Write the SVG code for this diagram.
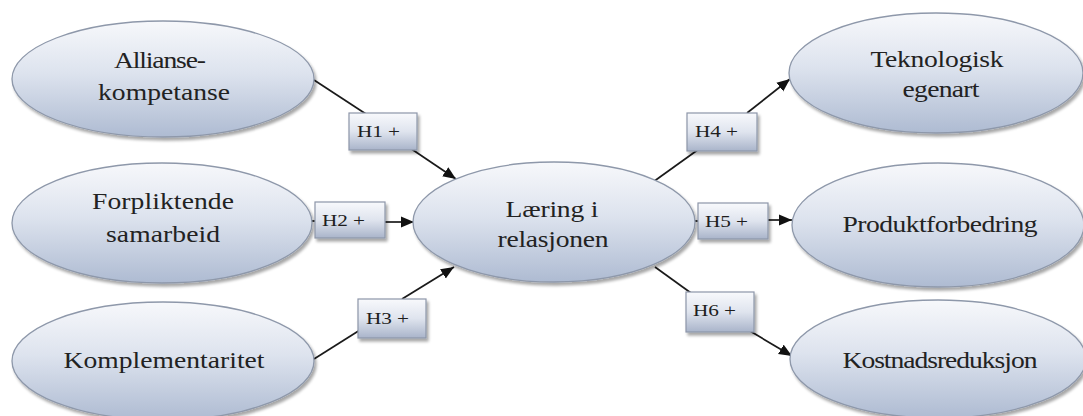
<svg xmlns="http://www.w3.org/2000/svg" width="1083" height="416" viewBox="0 0 1083 416">
  <defs>
    <linearGradient id="ovalFill" x1="0" y1="0" x2="0" y2="1">
      <stop offset="0" stop-color="#f7f8fb"/>
      <stop offset="0.45" stop-color="#dde3ee"/>
      <stop offset="1" stop-color="#aebbd2"/>
    </linearGradient>
    <linearGradient id="tagFill" x1="0" y1="0" x2="0" y2="1">
      <stop offset="0" stop-color="#f8f9fc"/>
      <stop offset="0.5" stop-color="#dfe4ee"/>
      <stop offset="1" stop-color="#a9b4ca"/>
    </linearGradient>
    <filter id="soft" x="-10%" y="-10%" width="125%" height="130%">
      <feGaussianBlur in="SourceAlpha" stdDeviation="1.5"/>
      <feOffset dx="1.5" dy="2.5" result="b"/>
      <feComponentTransfer><feFuncA type="linear" slope="0.35"/></feComponentTransfer>
      <feMerge><feMergeNode/><feMergeNode in="SourceGraphic"/></feMerge>
    </filter>
    <marker id="arrow" markerUnits="userSpaceOnUse" markerWidth="14" markerHeight="12" refX="13" refY="6" orient="auto">
      <path d="M0,0.5 L13,6 L0,11.5 Z" fill="#111"/>
    </marker>
    <style>
      .oval { fill: url(#ovalFill); stroke: #8e98aa; stroke-width: 1.3; filter: url(#soft); }
      .tag { fill: url(#tagFill); stroke: #8d96a8; stroke-width: 1.2; filter: url(#soft); }
      .lbl { font-family: "Liberation Serif", "DejaVu Serif", serif; font-size: 24px; fill: #222; text-anchor: middle; }
      .tagtxt { font-family: "Liberation Serif", "DejaVu Serif", serif; font-size: 17px; fill: #1e1e1e; }
      .wire { stroke: #1a1a1a; stroke-width: 1.7; fill: none; }
      .wire.head { marker-end: url(#arrow); }
    </style>
  </defs>

  <rect width="1083" height="416" fill="#ffffff"/>

  <!-- connectors -->
  <g id="connectors">
    <line class="wire" x1="314" y1="80" x2="366" y2="114"/>
    <line class="wire head" x1="410" y1="148" x2="456" y2="179"/>
    <line class="wire" x1="311" y1="221" x2="316" y2="221"/>
    <line class="wire head" x1="385" y1="222" x2="414" y2="222"/>
    <line class="wire" x1="314" y1="359" x2="360" y2="330"/>
    <line class="wire head" x1="402" y1="299" x2="454" y2="267"/>
    <line class="wire" x1="653" y1="182" x2="699" y2="149"/>
    <line class="wire head" x1="747" y1="113" x2="790" y2="79"/>
    <line class="wire" x1="694" y1="221" x2="699" y2="221"/>
    <line class="wire head" x1="768" y1="220" x2="792" y2="220"/>
    <line class="wire" x1="655" y1="267" x2="691" y2="293"/>
    <line class="wire head" x1="750" y1="331" x2="792" y2="356"/>
  </g>

  <!-- source constructs (labels set in a widened serif face) -->
  <g id="allianse">
    <ellipse class="oval" cx="163" cy="79" rx="151" ry="58"/>
    <text class="lbl" transform="matrix(1.15 0 0 1 160 68)" textLength="80" lengthAdjust="spacing">Allianse-</text>
    <text class="lbl" transform="matrix(1.15 0 0 1 164 100)" textLength="114.8" lengthAdjust="spacing">kompetanse</text>
  </g>
  <g id="forpliktende">
    <ellipse class="oval" cx="162" cy="223" rx="150" ry="60"/>
    <text class="lbl" transform="matrix(1.15 0 0 1 163 209)" textLength="123.5" lengthAdjust="spacing">Forpliktende</text>
    <text class="lbl" transform="matrix(1.15 0 0 1 163 242)" textLength="99.1" lengthAdjust="spacing">samarbeid</text>
  </g>
  <g id="komplementaritet">
    <ellipse class="oval" cx="163" cy="361" rx="151" ry="59"/>
    <text class="lbl" transform="matrix(1.15 0 0 1 164 368)" textLength="174.8" lengthAdjust="spacing">Komplementaritet</text>
  </g>

  <!-- central construct -->
  <g id="laering">
    <ellipse class="oval" cx="554" cy="222" rx="141" ry="60"/>
    <text class="lbl" transform="matrix(1.15 0 0 1 552 217)" textLength="80.9" lengthAdjust="spacing">Læring i</text>
    <text class="lbl" transform="matrix(1.15 0 0 1 553 247)" textLength="96.5" lengthAdjust="spacing">relasjonen</text>
  </g>

  <!-- outcome constructs -->
  <g id="teknologisk">
    <ellipse class="oval" cx="936" cy="73" rx="147" ry="60"/>
    <text class="lbl" transform="matrix(1.15 0 0 1 937 67)" textLength="115.7" lengthAdjust="spacing">Teknologisk</text>
    <text class="lbl" transform="matrix(1.15 0 0 1 941 97)" textLength="67" lengthAdjust="spacing">egenart</text>
  </g>
  <g id="produktforbedring">
    <ellipse class="oval" cx="938" cy="225" rx="146" ry="62"/>
    <text class="lbl" transform="matrix(1.15 0 0 1 940 232)" textLength="169.6" lengthAdjust="spacing">Produktforbedring</text>
  </g>
  <g id="kostnadsreduksjon">
    <ellipse class="oval" cx="938" cy="359" rx="148" ry="59"/>
    <text class="lbl" transform="matrix(1.15 0 0 1 940 368)" textLength="169.6" lengthAdjust="spacing">Kostnadsreduksjon</text>
  </g>

  <!-- hypothesis tags -->
  <g id="h1">
    <rect class="tag" x="349" y="113" width="68" height="37"/>
    <text class="tagtxt" transform="matrix(1.25 0 0 1 357 137)" textLength="34.4" lengthAdjust="spacing">H1 +</text>
  </g>
  <g id="h2">
    <rect class="tag" x="315" y="202" width="70" height="36"/>
    <text class="tagtxt" transform="matrix(1.25 0 0 1 322 226)" textLength="34.4" lengthAdjust="spacing">H2 +</text>
  </g>
  <g id="h3">
    <rect class="tag" x="358" y="299" width="68" height="39"/>
    <text class="tagtxt" transform="matrix(1.25 0 0 1 366 324)" textLength="34.4" lengthAdjust="spacing">H3 +</text>
  </g>
  <g id="h4">
    <rect class="tag" x="687" y="113" width="70" height="38"/>
    <text class="tagtxt" transform="matrix(1.25 0 0 1 695 137)" textLength="34.4" lengthAdjust="spacing">H4 +</text>
  </g>
  <g id="h5">
    <rect class="tag" x="698" y="203" width="70" height="36"/>
    <text class="tagtxt" transform="matrix(1.25 0 0 1 705 227)" textLength="34.4" lengthAdjust="spacing">H5 +</text>
  </g>
  <g id="h6">
    <rect class="tag" x="686" y="292" width="68" height="40"/>
    <text class="tagtxt" transform="matrix(1.25 0 0 1 693 316)" textLength="34.4" lengthAdjust="spacing">H6 +</text>
  </g>
</svg>
